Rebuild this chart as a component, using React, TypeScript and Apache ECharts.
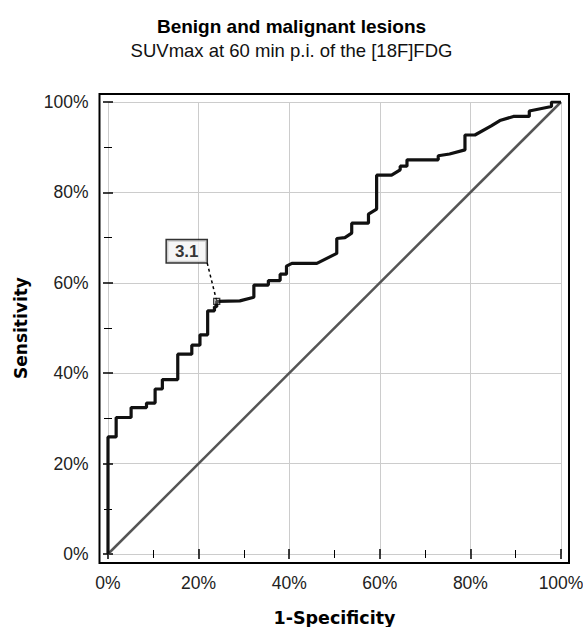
import React, { useEffect, useRef } from "react";
import * as echarts from "echarts";

// ROC curve (1-Specificity %, Sensitivity %)
const rocX = [0, 0, 1.8, 1.8, 5.1, 5.1, 8.5, 8.5, 10.4, 10.4, 12.0, 12.0, 15.4, 15.4, 18.5, 18.5, 20.3, 20.3, 22.0, 22.0, 23.5, 23.5, 24.0, 24.0, 29.1, 32.2, 32.2, 35.4, 35.4, 38.0, 38.0, 39.4, 39.4, 40.6, 46.1, 50.5, 50.5, 52.3, 53.8, 53.8, 57.5, 57.5, 59.3, 59.3, 62.6, 64.5, 64.5, 66.0, 66.0, 72.9, 72.9, 75.4, 78.8, 78.8, 81.0, 84.6, 86.5, 89.5, 93.0, 93.0, 97.9, 97.9, 100];
const rocY = [0, 25.9, 25.9, 30.2, 30.2, 32.4, 32.4, 33.4, 33.4, 36.5, 36.5, 38.6, 38.6, 44.2, 44.2, 46.2, 46.2, 48.5, 48.5, 53.8, 53.8, 54.7, 54.7, 55.9, 56.0, 56.8, 59.5, 59.5, 60.5, 60.5, 61.9, 61.9, 63.7, 64.3, 64.3, 66.5, 69.8, 70.0, 71.0, 73.2, 73.2, 75.2, 76.3, 83.8, 83.8, 85.0, 85.8, 85.8, 87.2, 87.2, 88.1, 88.5, 89.4, 92.7, 92.7, 94.7, 95.9, 96.8, 96.8, 98.0, 99.0, 100, 100];

// Reference (chance) line
const diagX = [0, 100];
const diagY = [0, 100];

// Cut-off point and its annotation
const cutoffPoint = [24.0, 55.9];
const cutoffLabel = "3.1";
const leaderX = [21.9, 24.0];
const leaderY = [64.4, 55.9];

const FONT = "'Liberation Sans', Arial, sans-serif";
const NAME_FONT = "'DejaVu Sans', Verdana, sans-serif";

export default function App() {
  const ref = useRef<HTMLDivElement>(null);
  useEffect(() => {
    if (!ref.current) return;
    const chart = echarts.init(ref.current, null, { renderer: "svg" });
    const pairs = (xs: number[], ys: number[]) => xs.map((x, i) => [x, ys[i]]);
    const base = {
      type: "value",
      min: 0,
      max: 100,
      interval: 20,
      axisLine: { show: false },
      axisTick: { show: true, inside: true, length: 5, lineStyle: { color: "#000", width: 1.5 } },
      minorTick: { show: true, splitNumber: 2, length: 4, lineStyle: { color: "#000", width: 1 } },
    };
    chart.setOption({
      animation: false,
      backgroundColor: "#fff",
      textStyle: { fontFamily: FONT },
      title: {
        text: "Benign and malignant lesions",
        subtext: "SUVmax at 60 min p.i. of the [18F]FDG",
        left: "center",
        top: 12,
        itemGap: 5,
        textStyle: { fontFamily: FONT, fontSize: 19, fontWeight: "bold", color: "#000" },
        subtextStyle: { fontFamily: FONT, fontSize: 18.5, color: "#111" },
      },
      grid: { left: 108, right: 22, top: 102, bottom: 73, containLabel: false, outerBoundsMode: "none" },
      xAxis: [
        {
          ...base,
          position: "bottom",
          offset: 9,
          splitLine: { show: true, lineStyle: { color: "#cccccc", width: 1 } },
          axisLabel: { formatter: "{value}%", fontSize: 17.5, color: "#222", margin: 11, fontFamily: FONT },
          name: "1-Specificity",
          nameLocation: "middle",
          nameGap: 46,
          nameTextStyle: { fontFamily: NAME_FONT, fontSize: 17.5, fontWeight: "bold", color: "#000" },
        },
        {
          ...base,
          position: "top",
          offset: 8,
          splitLine: { show: false },
          axisLabel: { show: false },
        },
      ],
      yAxis: [
        {
          ...base,
          position: "left",
          offset: 8.5,
          splitLine: { show: true, lineStyle: { color: "#cccccc", width: 1 } },
          axisLabel: { formatter: "{value}%", fontSize: 17.5, color: "#222", margin: 11, fontFamily: FONT },
          name: "Sensitivity",
          nameLocation: "middle",
          nameGap: 70,
          nameTextStyle: { fontFamily: NAME_FONT, fontSize: 17, fontWeight: "bold", color: "#000" },
        },
        {
          ...base,
          position: "right",
          offset: 8,
          splitLine: { show: false },
          axisLabel: { show: false },
        },
      ],
      graphic: [
        {
          type: "rect",
          shape: { x: 99.5, y: 94, width: 469.5, height: 469 },
          style: { fill: "none", stroke: "#000", lineWidth: 2 },
          z: 10,
        },
      ],
      series: [
        {
          type: "line",
          data: pairs(diagX, diagY),
          symbol: "none",
          lineStyle: { color: "#555", width: 2.5 },
          z: 2,
        },
        {
          type: "line",
          data: pairs(rocX, rocY),
          symbol: "none",
          lineStyle: { color: "#111", width: 3.2 },
          z: 3,
        },
        {
          type: "line",
          data: pairs(leaderX, leaderY),
          symbol: "none",
          lineStyle: { color: "#000", width: 1.5, type: [3, 3] },
          z: 4,
        },
        {
          type: "scatter",
          data: [cutoffPoint],
          symbol: "rect",
          symbolSize: 6,
          itemStyle: { color: "rgba(255,255,255,0.3)", borderColor: "#000", borderWidth: 1.3 },
          z: 5,
          label: {
            show: true,
            formatter: cutoffLabel,
            position: "inside",
            offset: [-30, -50],
            fontFamily: FONT,
            fontSize: 17,
            fontWeight: "bold",
            color: "#000",
            backgroundColor: "#f4f4f4",
            borderColor: "#000",
            borderWidth: 1.5,
            padding: [3, 8, 2, 8],
          },
        },
      ],
    });
    return () => chart.dispose();
  }, []);
  return (
    <div
      ref={ref}
      style={{ position: "fixed", left: 0, top: 0, width: 583, height: 627 }}
    />
  );
}
